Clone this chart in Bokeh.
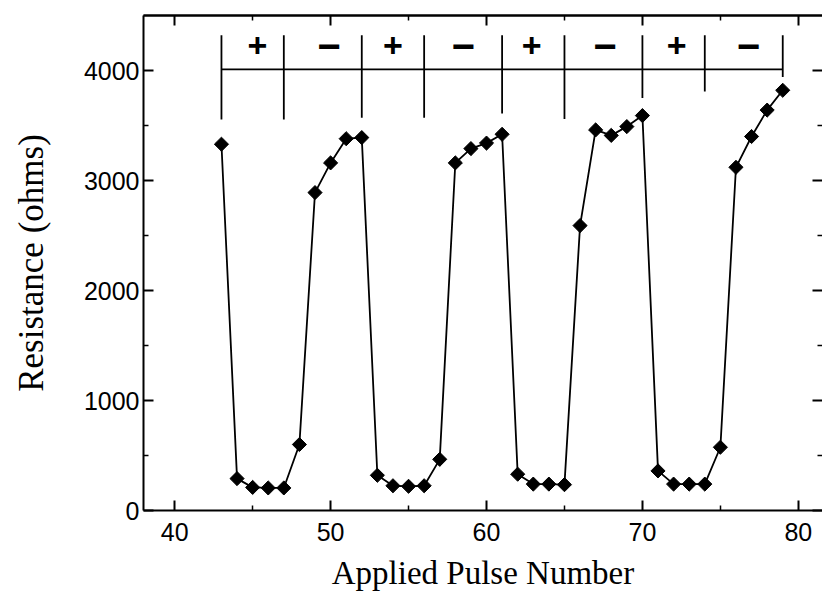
import numpy as np
from bokeh.plotting import figure
from bokeh.models import LinearAxis, Range1d, FixedTicker, ColumnDataSource
from bokeh.core.properties import value
from bokeh.embed import file_html
from bokeh.resources import INLINE

# ---- data ----
pulse = list(range(43, 80))
resistance = [3330, 290, 210, 205, 205, 600, 2890, 3160, 3380, 3390,
              320, 225, 220, 225, 465, 3160, 3290, 3340, 3420,
              330, 240, 240, 235, 2590, 3460, 3410, 3490, 3590,
              360, 240, 240, 240, 575, 3120, 3400, 3640, 3820]

# polarity annotation
boundaries = [43, 47, 52, 56, 61, 65, 70, 74, 79]
boundary_bottoms = [3555, 3555, 3570, 3570, 3610, 3560, 3750, 3810, 3940]
boundary_top = 4320
bar_level = 4010
plus_x = [45.3, 54.0, 62.9, 72.2]
minus_x = [49.9, 58.5, 67.6, 76.8]
sign_y = 4225

x_major = [40, 50, 60, 70, 80]
x_minor = [45, 55, 65, 75]
y_major = [0, 1000, 2000, 3000, 4000]
y_minor = [500, 1500, 2500, 3500]

p = figure(width=822, height=607,
           x_range=Range1d(38.0, 81.55), y_range=Range1d(0, 4500),
           output_backend="svg", toolbar_location=None,
           min_border_left=143, min_border_right=0,
           min_border_top=15, min_border_bottom=97,
           x_axis_label="Applied Pulse Number",
           y_axis_label="Resistance (ohms)")
p.grid.visible = False
p.outline_line_color = None
p.background_fill_color = "white"
p.border_fill_color = "white"


def style(ax, line=True):
    ax.axis_line_width = 2
    ax.axis_line_color = "black" if line else None
    ax.major_tick_in = 10
    ax.major_tick_out = 0
    ax.minor_tick_in = 5
    ax.minor_tick_out = 0
    ax.major_tick_line_width = 2
    ax.minor_tick_line_width = 1.5
    ax.major_tick_line_color = "black"
    ax.minor_tick_line_color = "black"


p.xaxis[0].ticker = FixedTicker(ticks=x_major, minor_ticks=x_minor)
p.yaxis[0].ticker = FixedTicker(ticks=y_major, minor_ticks=y_minor)
for ax in (p.xaxis[0], p.yaxis[0]):
    style(ax)
    ax.major_label_text_font = "Liberation Sans"
    ax.major_label_text_font_size = "25px"
    ax.major_label_text_color = "black"
    ax.axis_label_text_font = "Liberation Serif"
    ax.axis_label_text_font_style = "normal"
    ax.axis_label_text_color = "black"
p.xaxis[0].axis_label_text_font_size = "33px"
p.yaxis[0].axis_label_text_font_size = "35px"
p.xaxis[0].major_label_standoff = 12
p.xaxis[0].axis_label_standoff = 11
p.yaxis[0].major_label_standoff = 4
p.yaxis[0].axis_label_standoff = 30

# mirrored ticks on top and right (minor-tick only tickers, so no labels)
top_major = LinearAxis(ticker=FixedTicker(ticks=[], minor_ticks=x_major))
style(top_major)
top_major.minor_tick_in = 10
top_major.minor_tick_line_width = 2
p.add_layout(top_major, "above")
top_minor = LinearAxis(ticker=FixedTicker(ticks=[], minor_ticks=x_minor))
style(top_minor)
p.add_layout(top_minor, "above")

right_major = LinearAxis(ticker=FixedTicker(ticks=[], minor_ticks=y_major))
style(right_major, line=False)
right_major.minor_tick_in = 10
right_major.minor_tick_line_width = 2
p.add_layout(right_major, "right")
right_minor = LinearAxis(ticker=FixedTicker(ticks=[], minor_ticks=y_minor))
style(right_minor, line=False)
p.add_layout(right_minor, "right")

# data
src = ColumnDataSource(dict(x=pulse, y=resistance))
p.line("x", "y", source=src, line_color="black", line_width=1.8)
p.scatter("x", "y", source=src, marker="square", angle=np.pi / 4,
          size=10, fill_color="black", line_color="black")

# annotation
p.segment(x0=boundaries, y0=boundary_bottoms, x1=boundaries,
          y1=[boundary_top] * len(boundaries), line_color="black", line_width=1.8)
p.segment(x0=[boundaries[0]], y0=[bar_level], x1=[boundaries[-1]], y1=[bar_level],
          line_color="black", line_width=1.8)
p.text(x=plus_x, y=[sign_y] * len(plus_x), text=["+"] * len(plus_x),
       text_font=value("Liberation Sans"), text_font_style="bold",
       text_font_size="34px", text_align="center", text_baseline="middle",
       text_color="black")
p.text(x=minus_x, y=[sign_y] * len(minus_x), text=["\u2212"] * len(minus_x),
       text_font=value("Liberation Sans"), text_font_style="bold",
       text_font_size="40px", text_align="center", text_baseline="middle",
       text_color="black")

open("out.html", "w").write(file_html(p, INLINE))
